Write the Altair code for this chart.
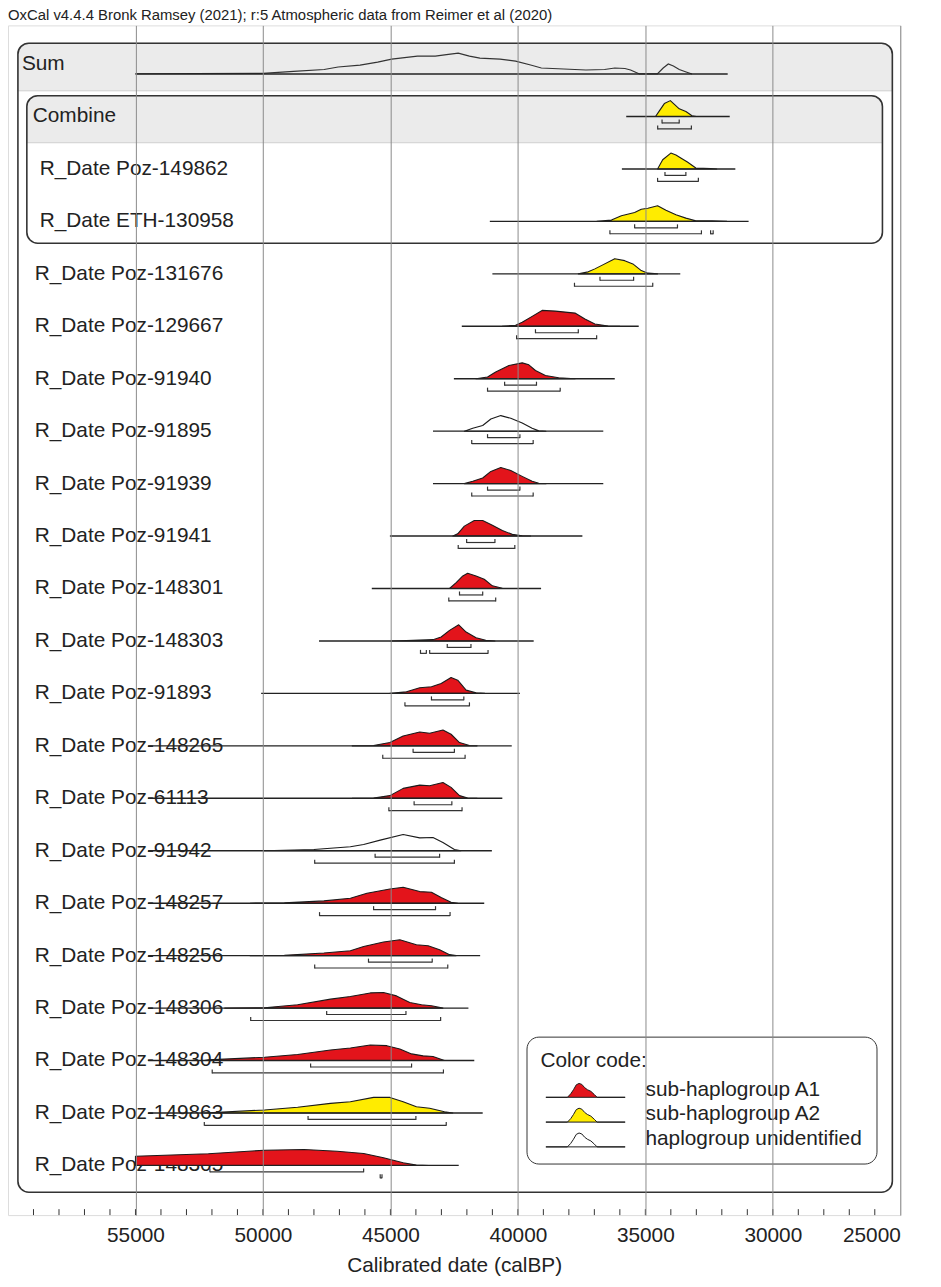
import altair as alt
import pandas as pd

FONT = "Liberation Sans"

# ---------------- data ----------------
ROW_NAMES = [
    "Sum", "Combine", "R_Date Poz-149862", "R_Date ETH-130958",
    "R_Date Poz-131676", "R_Date Poz-129667", "R_Date Poz-91940",
    "R_Date Poz-91895", "R_Date Poz-91939", "R_Date Poz-91941",
    "R_Date Poz-148301", "R_Date Poz-148303", "R_Date Poz-91893",
    "R_Date Poz-148265", "R_Date Poz-61113", "R_Date Poz-91942",
    "R_Date Poz-148257", "R_Date Poz-148256", "R_Date Poz-148306",
    "R_Date Poz-148304", "R_Date Poz-149863", "R_Date Poz-148305",
]
ROW_KIND = ["sum", "combine", "child", "child"] + ["plain"] * 18
ROW_GROUP = [None, "A2", "A2", "A2", "A2", "A1", "A1", "U", "A1", "A1", "A1",
             "A1", "A1", "A1", "A1", "U", "A1", "A1", "A1", "A1", "A2", "A1"]

# extent of each baseline (calBP, older end, younger end)
LINE_START = [55000, 35750, 35920, 41100, 41000, 42200, 42510, 43330, 43330,
              45020, 45730, 47800, 50070, 54500, 54500, 54500, 54500, 54500,
              54500, 54500, 54500, 55000]
LINE_END = [31770, 31690, 31470, 30950, 33630, 35260, 36200, 36650, 36650,
            37470, 39090, 39380, 39920, 40240, 40610, 41020, 41320, 41480,
            41940, 41710, 41380, 42320]

# probability density outlines: (calBP, relative density)
SUM_CURVE = [(55000, 0.2), (50000, 0.6), (48800, 2.7), (47600, 4.5), (47050, 7),
             (46190, 9), (45500, 12), (44950, 15), (43940, 18), (43240, 18),
             (42800, 19.5), (42340, 21), (41900, 18), (41490, 16), (40700, 15),
             (40090, 13), (39500, 9), (39080, 6), (38200, 5), (37330, 4),
             (36600, 4.5), (36200, 6), (35800, 5.5), (35580, 4), (35230, 0),
             (34530, 0), (34300, 6), (34100, 10), (33900, 8), (33670, 4.5),
             (33400, 2), (33170, 0)]

DENSITIES = {
    1: [(34600, 0), (34450, 5.7), (34255, 13), (34020, 16), (33850, 12),
        (33670, 7.7), (33410, 5), (33170, 0.7), (33000, 0)],
    2: [(34520, 0), (34320, 9.3), (34000, 16), (33800, 14), (33610, 11),
        (33350, 7), (33020, 1), (32440, 0.3), (32200, 0)],
    3: [(36900, 0), (36330, 1.3), (35940, 5.7), (35420, 9), (35160, 12.3),
        (34900, 13.3), (34520, 15.7), (34190, 11.3), (33800, 6.7),
        (33410, 3.3), (33020, 0.7), (32380, 0.5), (31800, 0)],
    4: [(37630, 0), (37240, 2), (36980, 5), (36650, 9.3), (36200, 15.3),
        (35810, 13.3), (35490, 10), (35160, 3.3), (34900, 0.7), (34520, 0)],
    5: [(40610, 0), (40090, 1), (39830, 4), (39440, 10), (39050, 16),
        (38530, 15.3), (37760, 13.3), (37370, 7.3), (36980, 2.3),
        (36460, 0.3), (36000, 0)],
    6: [(41640, 0), (41190, 1.7), (40870, 6.7), (40350, 13.3), (39830, 16),
        (39570, 14), (39310, 8.3), (38920, 3.3), (38400, 1), (37760, 0)],
    7: [(42100, 0), (41770, 3), (41380, 5.7), (41060, 12.3), (40670, 15.7),
        (40280, 13), (39830, 8.3), (39440, 3), (39180, 0.3), (38900, 0)],
    8: [(42100, 0), (41770, 2.3), (41380, 5.7), (41060, 12.3), (40670, 16.3),
        (40280, 13.3), (39830, 7.3), (39440, 2.3), (39180, 0.3), (38900, 0)],
    9: [(42550, 0), (42360, 2.3), (42100, 10), (41710, 15.7), (41380, 15.7),
        (41000, 11), (40610, 5.7), (40220, 1.7), (39830, 0.3), (39500, 0)],
    10: [(42680, 0), (42420, 6), (42160, 12.7), (41970, 15.3), (41640, 12.7),
         (41320, 9.3), (41000, 2.7), (40610, 0.3), (40300, 0)],
    11: [(45000, 0), (44370, 0.3), (43330, 1.3), (43010, 4), (42680, 10.7),
         (42320, 16.3), (42030, 9), (41640, 3.3), (41260, 0.7), (40900, 0)],
    12: [(45020, 0), (44370, 1.7), (43850, 5.7), (43390, 6.7), (43010, 10),
         (42620, 16), (42360, 13.3), (42030, 3.3), (41640, 0.7), (41300, 0)],
    13: [(46500, 0), (45660, 0.3), (45020, 3.3), (44500, 10), (43850, 14),
         (43460, 12.7), (42940, 16), (42620, 11.7), (42290, 3.3),
         (41900, 0.3), (41600, 0)],
    14: [(46500, 0), (45660, 0.3), (45020, 2.7), (44500, 10), (43850, 13.3),
         (43460, 12.7), (42940, 16), (42620, 11), (42290, 2.7), (41970, 0.3),
         (41600, 0)],
    15: [(49940, 0), (48000, 1.3), (46570, 4), (46050, 6.3), (45400, 10.7),
         (44500, 16.3), (43850, 13), (43330, 13.3), (42940, 8.3),
         (42490, 1.3), (42230, 0)],
    16: [(50500, 0), (49160, 0.3), (47610, 2.3), (46570, 5), (45920, 10),
         (45020, 14.3), (44500, 16), (43850, 11.7), (43390, 11), (43010, 5.7),
         (42620, 1), (42360, 0)],
    17: [(50500, 0), (49160, 0.3), (47610, 2.7), (46570, 5), (46050, 9.3),
         (45270, 13.7), (44630, 16), (43980, 11), (43520, 10), (43070, 6),
         (42680, 1), (42420, 0)],
    18: [(51500, 0), (49940, 0.3), (48640, 3.3), (47350, 9), (46570, 11.7),
         (45790, 15.3), (45270, 15.7), (44760, 12.3), (44240, 5.7),
         (43780, 3.3), (43390, 2.3), (42940, 0)],
    19: [(52300, 0), (52140, 0.7), (49940, 3.3), (48640, 6), (47350, 10.7),
         (46570, 12.7), (45790, 15.7), (45140, 15), (44630, 11.7),
         (44170, 6.7), (43720, 4.7), (43330, 4), (42880, 0)],
    20: [(52300, 0), (52140, 0.3), (49940, 3), (48640, 5.7), (47350, 9.7),
         (46570, 11.3), (45660, 15.7), (45020, 15.7), (44500, 11.3),
         (43980, 6.3), (43460, 4.7), (42880, 1.3), (42550, 0)],
    21: [(55000, 9.3), (52140, 11.7), (49940, 15.3), (48390, 16), (47090, 14.3),
         (46050, 12), (45270, 7.7), (44500, 2.7), (43980, 0.3), (43500, 0)],
}

# highest posterior density ranges: (row, level, older, younger)
RANGES = [
    (1, 68, 34345, 33672), (1, 95, 34516, 33194),
    (2, 68, 34230, 33410), (2, 95, 34520, 32920),
    (3, 68, 35420, 33740), (3, 95, 36390, 32800), (3, 95, 32440, 32340),
    (4, 68, 36780, 35460), (4, 95, 37780, 34710),
    (5, 68, 39310, 37630), (5, 95, 40050, 36910),
    (6, 68, 40520, 39270), (6, 95, 41190, 38340),
    (7, 68, 41190, 39920), (7, 95, 41810, 39400),
    (8, 68, 41190, 39920), (8, 95, 41810, 39400),
    (9, 68, 42010, 40900), (9, 95, 42340, 40120),
    (10, 68, 42290, 41380), (10, 95, 42710, 40870),
    (11, 68, 42770, 41840), (11, 95, 43460, 41170), (11, 95, 43820, 43590),
    (12, 68, 43390, 42120), (12, 95, 44430, 41900),
    (13, 68, 44110, 42490), (13, 95, 45300, 42070),
    (14, 68, 44070, 42590), (14, 95, 45060, 42190),
    (15, 68, 45600, 43070), (15, 95, 47970, 42490),
    (16, 68, 45660, 43230), (16, 95, 47780, 42660),
    (17, 68, 45860, 43360), (17, 95, 47970, 42750),
    (18, 68, 47500, 44390), (18, 95, 50480, 43030),
    (19, 68, 48130, 44170), (19, 95, 51990, 42920),
    (20, 68, 48230, 44000), (20, 95, 52300, 42810),
    (21, 68, 52080, 46050), (21, 95, 45400, 45330),
]

GROUP_KEYS = ["A1", "A2", "U"]
GROUP_LABELS = ["sub-haplogroup A1", "sub-haplogroup A2", "haplogroup unidentified"]
GROUP_COLORS = ["#e3141b", "#ffec00", "#ffffff"]

AXIS_VALUES = [55000, 50000, 45000, 40000, 35000, 30000, 25000]
MINOR_TICKS = list(range(26000, 60000, 1000))

HEADER_TEXT = "OxCal v4.4.4 Bronk Ramsey (2021); r:5 Atmospheric data from Reimer et al (2020)"

# ---------------- layout helpers ----------------
W, H = 900, 1200
ROW_PX = 52.9
ROW_TOP = -39 / ROW_PX
ROW_BOTTOM = ROW_TOP + H / ROW_PX
SUM_SHIFT = 10 / ROW_PX

label_map = dict(zip(GROUP_KEYS, GROUP_LABELS))

rows_df = pd.DataFrame({
    "name": ROW_NAMES, "row": list(range(len(ROW_NAMES))), "kind": ROW_KIND,
    "start": LINE_START, "end": LINE_END,
})
rows_df["base"] = rows_df["row"] + [SUM_SHIFT if k == "sum" else 0 for k in ROW_KIND]

dens = []
for r, pts in DENSITIES.items():
    for d, h in pts:
        dens.append({"name": ROW_NAMES[r], "date": d, "base": r,
                     "top": r - h / ROW_PX, "group": label_map[ROW_GROUP[r]]})
dens_df = pd.DataFrame(dens)

sum_df = pd.DataFrame([{"date": d, "top": SUM_SHIFT - h / ROW_PX} for d, h in SUM_CURVE])

rng_df = pd.DataFrame([{"base": r, "level": lv, "lo": a, "hi": b} for r, lv, a, b in RANGES])

boxes_df = pd.DataFrame({"box": ["Sum", "Combine"], "first": [0, 1], "last": [21, 3]})
ticks_df = pd.DataFrame({"d": MINOR_TICKS})
head_df = pd.DataFrame({"t": [HEADER_TEXT]})

xsc = alt.Scale(domain=[25000, 60000], reverse=True, nice=False, zero=False)
ysc = alt.Scale(domain=[ROW_TOP, ROW_BOTTOM], reverse=True, nice=False, zero=False)
X_AXIS = alt.Axis(values=AXIS_VALUES, format="d", grid=True, gridColor="#8a8a8a",
                  gridWidth=1, ticks=False, domain=False, labelFont=FONT,
                  labelFontSize=21, labelColor="#222", labelPadding=10,
                  title="Calibrated date (calBP)", titleFont=FONT, titleFontSize=21,
                  titleFontWeight="normal", titleColor="#222", titlePadding=9,
                  zindex=1)


def X(f):
    return alt.X(f, type="quantitative", scale=xsc, axis=X_AXIS)


def Y(f):
    return alt.Y(f, type="quantitative", scale=ysc, axis=None)


LEGEND_PATH = ("M-0.64,0.55 L0.91,0.55 L1.15,0.3 L1.35,0.0 L1.55,-0.35 L1.75,-0.45 "
               "L1.95,-0.38 L2.15,-0.15 L2.35,0.0 L2.6,0.12 L2.85,0.35 L3.05,0.55 "
               "L5.07,0.55 Z")

# ---------------- layers ----------------
base_boxes = alt.Chart(boxes_df)

sum_header = base_boxes.transform_filter(alt.datum.box == "Sum").mark_rect(
    fill="#ebebeb", stroke="#cfcfcf", strokeWidth=1,
    cornerRadiusTopLeft=11, cornerRadiusTopRight=11, yOffset=-21, y2Offset=27
).encode(x=alt.value(10), x2=alt.value(892), y=Y("first"), y2="first:Q")

outer_box = base_boxes.transform_filter(alt.datum.box == "Sum").mark_rect(
    fillOpacity=0, stroke="#333", strokeWidth=1.6, cornerRadius=11,
    yOffset=-21, y2Offset=27
).encode(x=alt.value(10), x2=alt.value(892), y=Y("first"), y2="last:Q")

comb_header = base_boxes.transform_filter(alt.datum.box == "Combine").mark_rect(
    fill="#ebebeb", stroke="#cfcfcf", strokeWidth=1,
    cornerRadiusTopLeft=11, cornerRadiusTopRight=11, yOffset=-21, y2Offset=26.5
).encode(x=alt.value(19), x2=alt.value(882), y=Y("first"), y2="first:Q")

comb_box = base_boxes.transform_filter(alt.datum.box == "Combine").mark_rect(
    fillOpacity=0, stroke="#333", strokeWidth=1.6, cornerRadius=11,
    yOffset=-21, y2Offset=22
).encode(x=alt.value(19), x2=alt.value(882), y=Y("first"), y2="last:Q")

label_base = alt.Chart(rows_df)


def labels(kind, xpos):
    return label_base.transform_filter(alt.datum.kind == kind).mark_text(
        align="left", baseline="middle", font=FONT, fontSize=21, color="#222"
    ).encode(x=alt.value(xpos), y=Y("row"), text="name:N")


areas = alt.Chart(dens_df).mark_area(
    stroke="#1a1a1a", strokeWidth=1.1, strokeJoin="round", interpolate="linear"
).encode(
    x=X("date"), y=Y("top"), y2="base:Q", detail="name:N",
    fill=alt.Fill("group:N",
                  scale=alt.Scale(domain=GROUP_LABELS, range=GROUP_COLORS),
                  legend=alt.Legend(
                      title="Color code:", orient="none", legendX=523, legendY=1020,
                      symbolType=LEGEND_PATH, symbolSize=784,
                      symbolStrokeColor="#1a1a1a", symbolStrokeWidth=1,
                      labelOffset=77, labelLimit=0, labelFont=FONT, labelFontSize=21,
                      labelColor="#222", titleFont=FONT, titleFontSize=21,
                      titleFontWeight="normal", titleColor="#222",
                      padding=14, titlePadding=4, rowPadding=0,
                      strokeColor="#333", cornerRadius=12, fillColor="white")),
)

sum_line = alt.Chart(sum_df).mark_line(color="#333", strokeWidth=1.2).encode(
    x=X("date"), y=Y("top"))

baselines = alt.Chart(rows_df).mark_rule(color="#222", strokeWidth=1.4).encode(
    x=X("start"), x2="end:Q", y=Y("base"))

rng = alt.Chart(rng_df)


def bracket(level, off):
    line = rng.transform_filter(alt.datum.level == level).mark_rule(
        color="#333", strokeWidth=1.2, yOffset=off
    ).encode(x=X("lo"), x2="hi:Q", y=Y("base"))
    ends = rng.transform_filter(alt.datum.level == level).transform_fold(
        ["lo", "hi"], as_=["end", "xv"]
    ).mark_rule(color="#333", strokeWidth=1.2, yOffset=off - 3.5, y2Offset=off + 0.5
    ).encode(x=X("xv"), y=Y("base"), y2="base:Q")
    return line + ends


minor = alt.Chart(ticks_df).mark_rule(color="#333", strokeWidth=1).encode(
    x=X("d"), y=alt.value(H), y2=alt.value(H - 6))

header = alt.Chart(head_df).mark_text(
    align="left", baseline="bottom", font=FONT, fontSize=15, color="#222"
).encode(x=alt.value(0), y=alt.value(-2), text="t:N")

chart = alt.layer(
    sum_header, comb_header, outer_box, comb_box,
    labels("sum", 14), labels("combine", 25), labels("child", 32), labels("plain", 27),
    areas, sum_line, baselines, bracket(68, 6.5), bracket(95, 12.5), minor, header,
).properties(
    width=W, height=H,
    autosize=alt.AutoSizeParams(type="none"),
    padding={"left": 0, "top": 12, "right": 33, "bottom": 67},
).configure_view(stroke="#333", strokeWidth=1.5).configure(background="white")

chart.save("out.html", embed_options={"renderer": "svg", "actions": False})
